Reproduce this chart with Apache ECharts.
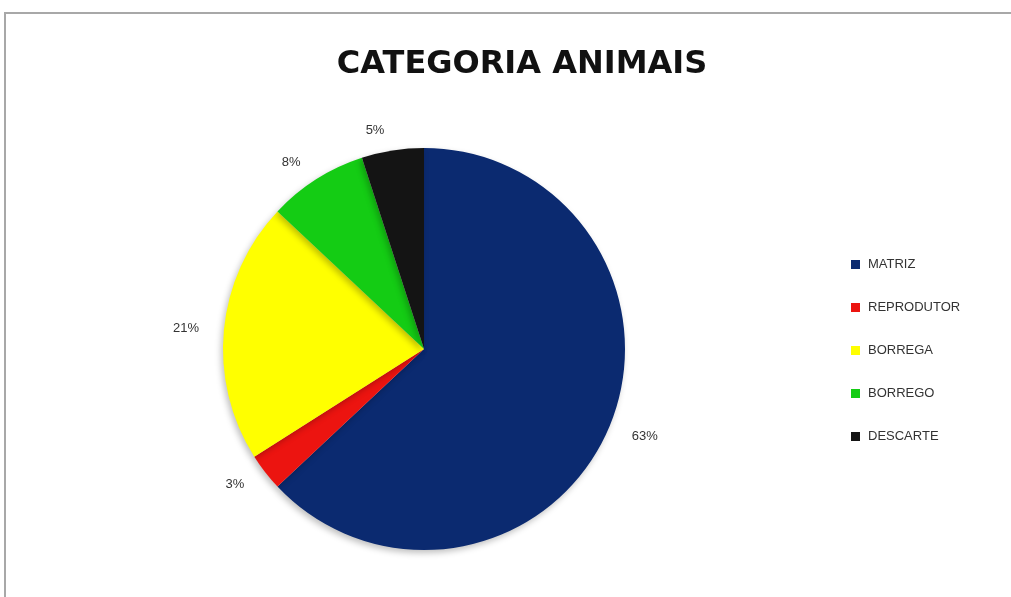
<!DOCTYPE html>
<html>
<head>
<meta charset="utf-8">
<script src="https://cdn.jsdelivr.net/npm/echarts@6/dist/echarts.min.js"></script>
<style>
html, body { margin: 0; padding: 0; background: #fff; }
#categoria-animais {
  position: absolute;
  left: 4px;
  top: 12px;
  width: 1010px;
  height: 590px;
  border-left: 2px solid #a8a8a8;
  border-top: 2px solid #a8a8a8;
}
</style>
</head>
<body>
<div id="categoria-animais"></div>
<script>
// dados do gráfico
var categorias = ['MATRIZ', 'REPRODUTOR', 'BORREGA', 'BORREGO', 'DESCARTE'];
var valores = [63, 3, 21, 8, 5];
var cores = ['#0b2a70', '#ec1410', '#ffff00', '#14cc14', '#141414'];

var myChart = echarts.init(document.getElementById('categoria-animais'));

var option = {
  title: {
    text: 'CATEGORIA ANIMAIS',
    left: 511,
    top: 30,
    textAlign: 'center',
    textStyle: {
      fontFamily: 'DejaVu Sans',
      fontWeight: 'bold',
      fontSize: 32,
      color: '#111'
    }
  },
  legend: {
    orient: 'vertical',
    left: 840,
    top: 239,
    itemWidth: 9,
    itemHeight: 9,
    itemGap: 30,
    icon: 'rect',
    textStyle: {
      fontFamily: 'Liberation Sans',
      fontSize: 13,
      color: '#333',
      padding: [0, 0, 0, 3]
    },
    data: categorias
  },
  color: cores,
  series: [{
    name: 'Categoria',
    type: 'pie',
    center: [418, 335],
    radius: 201,
    startAngle: 90,
    clockwise: true,
    animation: false,
    label: {
      show: true,
      position: 'outside',
      formatter: '{d}%',
      fontFamily: 'Liberation Sans',
      fontSize: 13,
      color: '#333'
    },
    labelLine: {
      show: false,
      length: 20,
      length2: 0
    },
    itemStyle: {
      borderWidth: 0,
      shadowBlur: 6,
      shadowColor: 'rgba(0,0,0,0.25)',
      shadowOffsetX: -2,
      shadowOffsetY: 3
    },
    data: categorias.map(function (c, i) {
      return { name: c, value: valores[i] };
    })
  }]
};
myChart.setOption(option);

window.addEventListener('resize', function () {
  myChart.resize();
});
</script>
</body>
</html>
